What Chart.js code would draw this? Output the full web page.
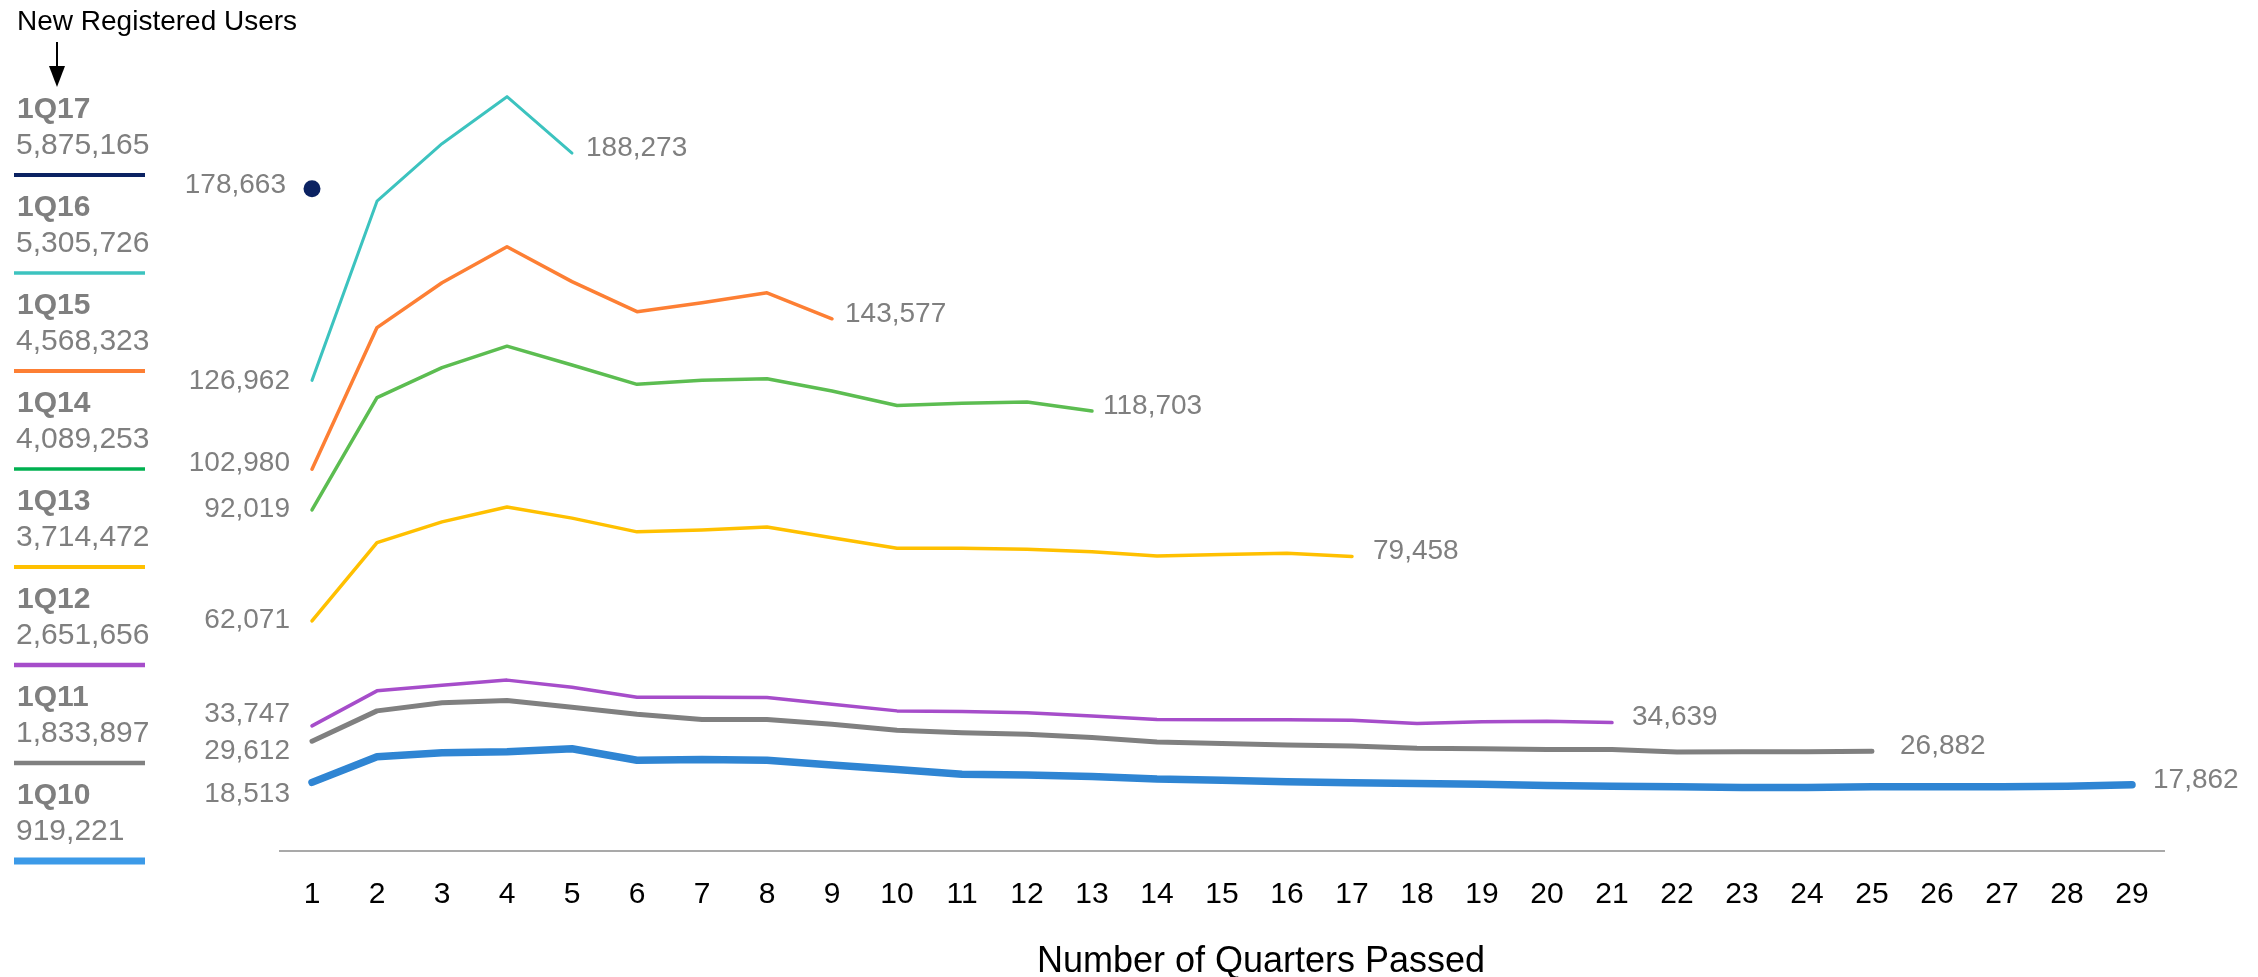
<!DOCTYPE html>
<html>
<head>
<meta charset="utf-8">
<title>New Registered Users by Cohort</title>
<script src="https://cdn.jsdelivr.net/npm/chart.js@4.4.1/dist/chart.umd.min.js"></script>
<style>
    html, body { margin: 0; padding: 0; background: #fff; }
    canvas { display: block; }
</style>
</head>
<body>
<canvas id="cohortChart" width="2258" height="977"></canvas>
<script>
// x axis
const quarters = Array.from({ length: 29 }, (_, i) => String(i + 1));

// cohorts, top of legend first
const cohorts = ["1Q17", "1Q16", "1Q15", "1Q14", "1Q13", "1Q12", "1Q11", "1Q10"];
const cohortTotals = [5875165, 5305726, 4568323, 4089253, 3714472, 2651656, 1833897, 919221];

// new registered users per quarter passed
const users1Q17 = [178663];
const users1Q16 = [126962, 175300, 190800, 203500, 188273];
const users1Q15 = [102980, 141200, 153300, 163000, 153600, 145500, 147900, 150600, 143577];
const users1Q14 = [92019, 122300, 130400, 136200, 131100, 125900, 127000, 127400, 124100, 120200, 120800, 121100, 118703];
const users1Q13 = [62071, 83200, 88800, 92800, 89800, 86100, 86600, 87400, 84500, 81700, 81700, 81400, 80700, 79600, 80000, 80300, 79458];
const users1Q12 = [33747, 43200, 44700, 46100, 44200, 41500, 41500, 41400, 39600, 37800, 37600, 37300, 36400, 35500, 35400, 35400, 35300, 34400, 34900, 35000, 34639];
const users1Q11 = [29612, 37800, 40000, 40600, 38800, 36900, 35500, 35500, 34200, 32600, 31900, 31500, 30600, 29400, 29000, 28600, 28300, 27700, 27600, 27400, 27400, 26700, 26800, 26800, 26882];
const users1Q10 = [18513, 25400, 26500, 26800, 27600, 24500, 24700, 24500, 23200, 22000, 20700, 20500, 20100, 19400, 19100, 18700, 18400, 18200, 18000, 17700, 17500, 17300, 17100, 17100, 17300, 17300, 17300, 17500, 17862];

const series = [users1Q17, users1Q16, users1Q15, users1Q14, users1Q13, users1Q12, users1Q11, users1Q10];

// styles
const lineColors = ["#0b2262", "#3cc3bf", "#fd7f34", "#5cbd51", "#ffc000", "#a64dca", "#808080", "#2f85d3"];
const legendColors = ["#0b2262", "#3cc3bf", "#fd7f34", "#00b050", "#ffc000", "#a64dca", "#808080", "#3c9ae8"];
const lineWidths = [3, 3, 3.5, 3.5, 3.5, 3.5, 5, 7.5];
const legendWidths = [4, 3.5, 4, 3.5, 4, 4.5, 4.5, 7];
const startGap = [26, 22, 22, 22, 22, 22, 22, 22];
const startDy = [-3, 1, -6, -1, -1, -12, 10, 12];
const endGap = [0, 14, 13, 11, 21, 20, 28, 21];

const FONT = '"Helvetica Neue", "Liberation Sans", Arial, sans-serif';
const GREY = "#7f7f7f";

const fmt = (v) => new Intl.NumberFormat("en-US").format(v);

const datasets = series.map((data, i) => ({
    label: cohorts[i],
    data,
    borderColor: lineColors[i],
    backgroundColor: lineColors[i],
    borderWidth: lineWidths[i],
    borderCapStyle: "round",
    borderJoinStyle: "round",
    tension: 0,
    fill: false,
    pointRadius: data.length === 1 ? 8.5 : 0,
    pointBorderWidth: 0,
    pointHoverRadius: 0,
    clip: false
}));

const annotate = {
    id: "annotate",
    afterDatasetsDraw(chart) {
        const ctx = chart.ctx;
        ctx.save();
        ctx.font = `28px ${FONT}`;
        ctx.fillStyle = GREY;
        ctx.textBaseline = "middle";
        chart.data.datasets.forEach((ds, i) => {
            const pts = chart.getDatasetMeta(i).data;
            const first = pts[0];
            const last = pts[pts.length - 1];
            ctx.textAlign = "right";
            ctx.fillText(fmt(ds.data[0]), first.x - startGap[i], first.y + startDy[i]);
            if (pts.length > 1) {
                ctx.textAlign = "left";
                ctx.fillText(fmt(ds.data[ds.data.length - 1]), last.x + endGap[i], last.y - 5);
            }
        });
        ctx.restore();
    },
    afterDraw(chart) {
        const ctx = chart.ctx;
        ctx.save();

        // heading + arrow
        ctx.fillStyle = "#000";
        ctx.textAlign = "left";
        ctx.textBaseline = "middle";
        ctx.font = `28px ${FONT}`;
        ctx.fillText("New Registered Users", 17, 22);
        ctx.strokeStyle = "#000";
        ctx.lineWidth = 2;
        ctx.beginPath();
        ctx.moveTo(57, 42);
        ctx.lineTo(57, 70);
        ctx.stroke();
        ctx.beginPath();
        ctx.moveTo(49, 66);
        ctx.lineTo(65, 66);
        ctx.lineTo(57, 87);
        ctx.closePath();
        ctx.fill();

        // cohort legend
        cohorts.forEach((name, i) => {
            const y = 110 + i * 98;
            ctx.fillStyle = GREY;
            ctx.font = `bold 30px ${FONT}`;
            ctx.fillText(name, 17, y);
            ctx.font = `30px ${FONT}`;
            ctx.fillText(fmt(cohortTotals[i]), 16, y + 36);
            ctx.strokeStyle = legendColors[i];
            ctx.lineWidth = legendWidths[i];
            ctx.beginPath();
            ctx.moveTo(14, y + 65);
            ctx.lineTo(145, y + 65);
            ctx.stroke();
        });

        // axis title
        ctx.fillStyle = "#000";
        ctx.textAlign = "center";
        ctx.textBaseline = "alphabetic";
        ctx.font = `36px ${FONT}`;
        ctx.fillText("Number of Quarters Passed", 1261, 972);
        ctx.restore();
    }
};

const ctx = document.getElementById("cohortChart").getContext("2d");
new Chart(ctx, {
    type: "line",
    data: { labels: quarters, datasets },
    options: {
        responsive: false,
        animation: false,
        devicePixelRatio: 1,
        layout: { padding: { left: 279.5, right: 93.5, top: 35.5, bottom: 38 } },
        plugins: { legend: { display: false }, tooltip: { enabled: false } },
        scales: {
            x: {
                type: "category",
                offset: true,
                grid: { display: false, drawTicks: false },
                border: { display: true, color: "#a9a9a9", width: 2 },
                ticks: { color: "#000", font: { family: FONT, size: 30 }, padding: 26, maxRotation: 0, autoSkip: false }
            },
            y: {
                display: false,
                min: 0,
                max: 220000
            }
        }
    },
    plugins: [annotate]
});
</script>
</body>
</html>
